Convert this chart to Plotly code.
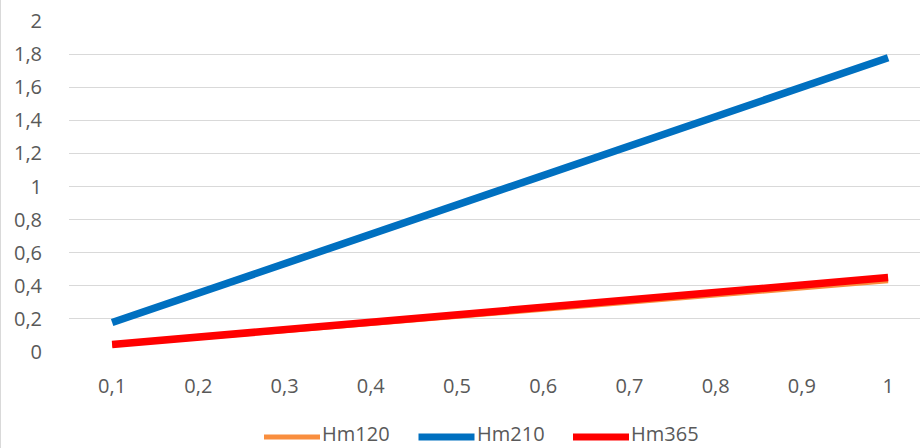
import plotly.graph_objects as go

# Category axis labels and series values
x_labels = ["0,1", "0,2", "0,3", "0,4", "0,5", "0,6", "0,7", "0,8", "0,9", "1"]
hm120 = [0.043, 0.086, 0.129, 0.172, 0.215, 0.258, 0.301, 0.344, 0.387, 0.430]
hm210 = [0.178, 0.356, 0.533, 0.711, 0.889, 1.067, 1.244, 1.422, 1.600, 1.778]
hm365 = [0.045, 0.090, 0.135, 0.180, 0.225, 0.270, 0.315, 0.360, 0.405, 0.450]
y_ticks = [0, 0.2, 0.4, 0.6, 0.8, 1, 1.2, 1.4, 1.6, 1.8, 2]
y_tick_text = ["0", "0,2", "0,4", "0,6", "0,8", "1", "1,2", "1,4", "1,6", "1,8", "2"]

TEXT = "#595959"
FONT = "Open Sans"
W, H = 920, 448
ML, MR, MT, MB = 69, 0, 21, 96
PW, PH = W - ML - MR, H - MT - MB


def px_to_paper(px, py):
    return (px - ML) / PW, (H - MB - py) / PH


fig = go.Figure()
series = [
    ("Hm120", hm120, "#F98E3E", 5),
    ("Hm210", hm210, "#0070C0", 7.5),
    ("Hm365", hm365, "#FF0000", 7.5),
]
for name, vals, color, width in series:
    fig.add_trace(go.Scatter(
        x=list(range(len(x_labels))), y=vals, name=name, mode="lines",
        line=dict(color=color, width=width), showlegend=False,
    ))

# Legend drawn below the plot: a long line sample followed by the series name
shapes = [dict(
    type="line", xref="paper", yref="paper",
    x0=-(ML - 0.5) / PW, x1=-(ML - 0.5) / PW, y0=-MB / PH, y1=1 + MT / PH,
    line=dict(color="#D9D9D9", width=1),
)]
annotations = []
legend_start, legend_step, sample_len, legend_y = 264, 154.5, 56, 437
for i, (name, vals, color, width) in enumerate(series):
    x0 = legend_start + i * legend_step
    a0, b = px_to_paper(x0, legend_y)
    a1, _ = px_to_paper(x0 + sample_len, legend_y)
    shapes.append(dict(
        type="line", xref="paper", yref="paper", x0=a0, x1=a1, y0=b, y1=b,
        line=dict(color=color, width=min(width, 7)),
    ))
    at, bt = px_to_paper(x0 + sample_len + 1, H - 0.5)
    annotations.append(dict(
        text=name, xref="paper", yref="paper", x=at, y=bt,
        xanchor="left", yanchor="bottom", showarrow=False, borderpad=0,
        font=dict(family=FONT, size=20, color=TEXT),
    ))

fig.update_layout(
    width=W, height=H,
    margin=dict(l=ML, r=MR, t=MT, b=MB),
    paper_bgcolor="white", plot_bgcolor="white",
    font=dict(family=FONT, size=20, color=TEXT),
    showlegend=False,
    xaxis=dict(
        tickmode="array", tickvals=list(range(len(x_labels))), ticktext=x_labels,
        range=[-0.5, 9.37], showgrid=False, zeroline=False, showline=False,
        ticks="outside", ticklen=0, ticklabelstandoff=16,
        tickfont=dict(size=20, color=TEXT),
    ),
    yaxis=dict(
        tickmode="array", tickvals=y_ticks, ticktext=y_tick_text,
        range=[0, 2], showgrid=True, gridcolor="#D9D9D9", gridwidth=1,
        zeroline=False, showline=False, ticks="outside", ticklen=0,
        ticklabelstandoff=22, tickfont=dict(size=20, color=TEXT),
    ),
    shapes=shapes,
    annotations=annotations,
)

fig.write_html("out.html")
